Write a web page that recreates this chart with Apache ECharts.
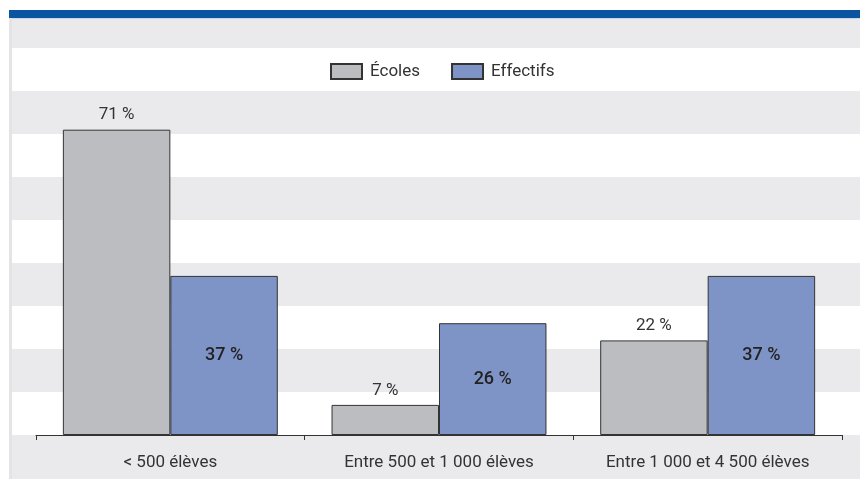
<!DOCTYPE html>
<html>
<head>
<meta charset="utf-8">
<script src="https://cdn.jsdelivr.net/npm/echarts@6/dist/echarts.min.js"></script>
<style>
html,body{margin:0;padding:0;background:#fff;}
#chart{width:860px;height:479px;}
</style>
</head>
<body>
<div id="chart"></div>
<script>
var categories = ['< 500 élèves', 'Entre 500 et 1 000 élèves', 'Entre 1 000 et 4 500 élèves'];
var seriesNames = ['Écoles', 'Effectifs'];
var ecoles = [71, 7, 22];
var effectifs = [37, 26, 37];
var yMax = 90;
var yStep = 10;

var FONT = "Roboto, 'Liberation Sans', sans-serif";
var GREY = '#eaeaec';

var chart = echarts.init(document.getElementById('chart'), null, {renderer: 'canvas'});
chart.setOption({
  animation: false,
  backgroundColor: '#ffffff',
  textStyle: {fontFamily: FONT},
  graphic: [
    {type: 'rect', z: -100, shape: {x: 9, y: 10, width: 851, height: 8}, style: {fill: '#0b55a0'}},
    {type: 'rect', z: -100, shape: {x: 9, y: 18, width: 851, height: 1}, style: {fill: '#c9d6e6'}},
    {type: 'rect', z: -100, shape: {x: 9, y: 18, width: 3, height: 461}, style: {fill: '#e4e4e6'}},
    {type: 'rect', z: -100, shape: {x: 12, y: 19, width: 848, height: 29}, style: {fill: GREY}},
    {type: 'rect', z: -100, shape: {x: 12, y: 435, width: 848, height: 44}, style: {fill: GREY}}
  ],
  legend: {
    data: seriesNames,
    left: 325,
    top: 58,
    itemWidth: 31,
    itemHeight: 15,
    itemGap: 31,
    icon: 'rect',
    textStyle: {fontSize: 17, color: '#333', fontFamily: FONT, padding: [0, 0, 0, 3]}
  },
  grid: [
    {left: 12, right: 0, top: 48, bottom: 44},
    {left: 36, right: 18, top: 48, bottom: 44}
  ],
  xAxis: [
    {gridIndex: 0, type: 'category', data: categories, show: false},
    {
      gridIndex: 1, type: 'category', data: categories,
      axisLine: {lineStyle: {color: '#333', width: 1}},
      axisTick: {show: true, length: 5, lineStyle: {color: '#333'}},
      axisLabel: {interval: 0, fontSize: 17, color: '#333', margin: 19, fontFamily: FONT}
    }
  ],
  yAxis: [
    {
      gridIndex: 0, type: 'value', min: 0, max: yMax, interval: yStep,
      axisLine: {show: false}, axisTick: {show: false}, axisLabel: {show: false},
      splitLine: {show: false},
      splitArea: {show: true, areaStyle: {color: ['#ffffff', GREY]}}
    },
    {
      gridIndex: 1, type: 'value', min: 0, max: yMax, interval: yStep,
      show: false, splitLine: {show: false}
    }
  ],
  series: [
    {
      name: seriesNames[0], type: 'bar', xAxisIndex: 1, yAxisIndex: 1,
      data: ecoles,
      barCategoryGap: '20%', barGap: '0%',
      itemStyle: {color: '#bcbdc1', borderColor: '#333', borderWidth: 1},
      label: {show: true, position: 'top', distance: 6, formatter: '{c} %', fontSize: 17, color: '#333', fontFamily: FONT}
    },
    {
      name: seriesNames[1], type: 'bar', xAxisIndex: 1, yAxisIndex: 1,
      data: effectifs,
      barCategoryGap: '20%', barGap: '0%',
      itemStyle: {color: '#7e93c6', borderColor: '#333', borderWidth: 1},
      label: {show: true, position: 'inside', formatter: '{c} %', fontSize: 18, fontWeight: 500, color: '#222', fontFamily: FONT}
    }
  ]
});
</script>
</body>
</html>
